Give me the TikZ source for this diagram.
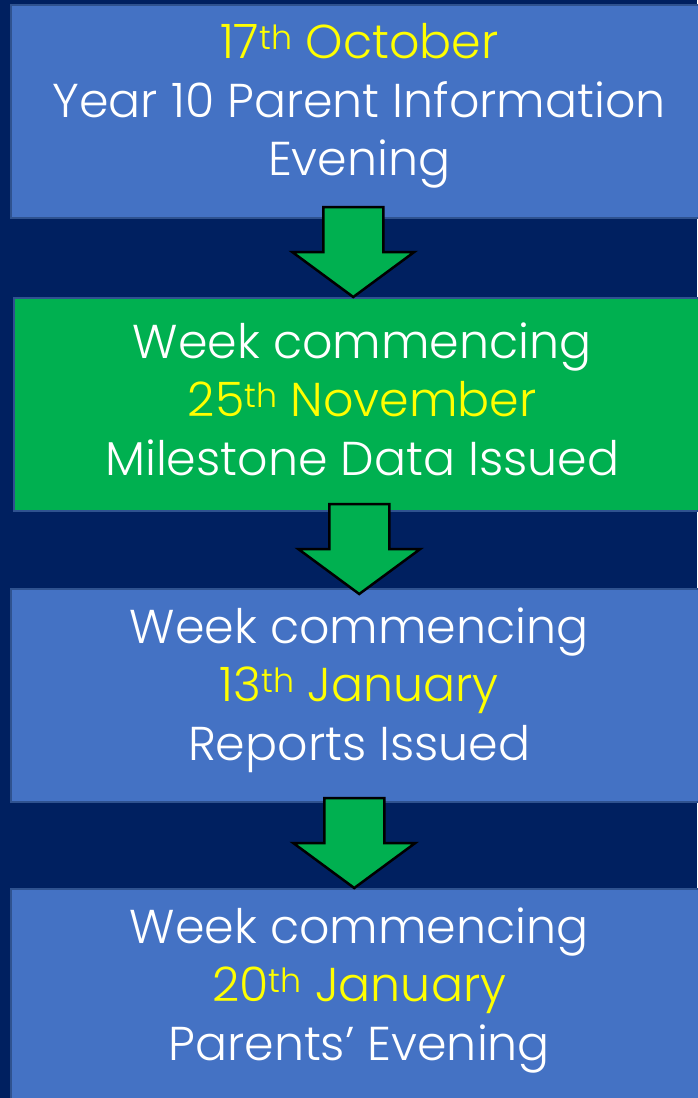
\documentclass[tikz,border=0pt]{standalone}
\usepackage{fontspec}
\setmainfont{Poppins}[UprightFont=* Light]
\usetikzlibrary{calc}
\definecolor{pagebg}{HTML}{002060}
\definecolor{boxblue}{HTML}{4472C4}
\definecolor{boxgreen}{HTML}{00B050}
\definecolor{boxedge}{HTML}{2F528F}
\definecolor{dateyellow}{HTML}{FFFF00}
\tikzset{
  stagebox/.style={fill=boxblue,draw=boxedge,line width=1.5pt,minimum width=697pt,
    minimum height=213pt,anchor=north west,inner sep=0pt},
  greenbox/.style={stagebox,fill=boxgreen},
  stagetext/.style={inner sep=0pt,text=white,align=center,
    font=\fontsize{47.5}{58.5}\selectfont},
  downarrow/.style={fill=boxgreen,draw=black,line width=2.5pt,line join=miter}
}
\newcommand{\dt}[1]{\textcolor{dateyellow}{#1}}
\newcommand{\stagearrow}[1]{%
  \draw[downarrow] ($(#1)+(-30,-90)$) -- ++(60,0) -- ++(0,45) -- ++(31,0)
    -- (#1) -- ($(#1)+(-61,-45)$) -- ++(31,0) -- cycle;}
\begin{document}
\begin{tikzpicture}[x=1pt,y=-1pt]
\fill[pagebg] (0,0) rectangle (697,1098);
\useasboundingbox (0,0) rectangle (697,1098);
% the four stages
\node[stagebox] (b1) at (10,4) {};
\node[greenbox] (b2) at (13,297) {};
\node[stagebox] (b3) at (10,588) {};
\node[stagebox] (b4) at (10,888) {};
\node[stagetext] (l1) at ($(b1.center)+(0,-5)$) {\dt{17\textsuperscript{th} October}\\Year 10 Parent Information\\Evening};
\node[stagetext] (l2) at ($(b2.center)+(0,-5)$) {Week commencing\\\dt{25\textsuperscript{th} November}\\Milestone Data Issued};
\node[stagetext] (l3) at ($(b3.center)+(0,-5)$) {Week commencing\\\dt{13\textsuperscript{th} January}\\Reports Issued};
\node[stagetext] (l4) at ($(b4.center)+(0,-5)$) {Week commencing\\\dt{20\textsuperscript{th} January}\\Parents’ Evening};
% arrows between them
\coordinate (t1) at ($(b2.north)+(-9,0)$);
\coordinate (t2) at ($(b3.north)+(0,6)$);
\coordinate (t3) at ($(b4.north)+(-5,0)$);
\stagearrow{t1}
\stagearrow{t2}
\stagearrow{t3}
\end{tikzpicture}
\end{document}
